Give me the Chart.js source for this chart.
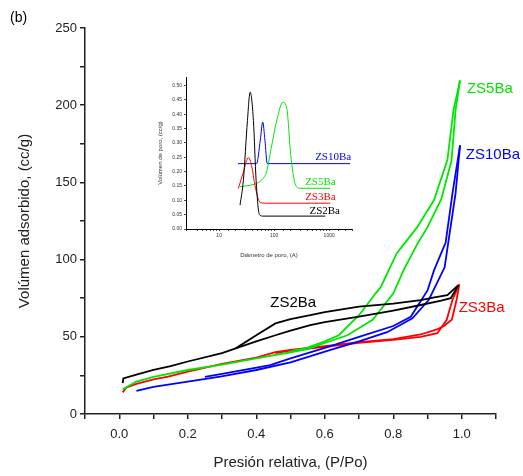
<!DOCTYPE html>
<html>
<head>
<meta charset="utf-8">
<script src="https://cdn.jsdelivr.net/npm/chart.js@4/dist/chart.umd.min.js"></script>
<style>
  body { margin: 0; background: #fff; }
  #wrap { position: relative; width: 523px; height: 476px; }
  #main { position: absolute; left: 0; top: 0; }
  #inset { position: absolute; left: 150px; top: 70px; }
  #tag { position: absolute; left: 10px; top: 9px; font: 14px "Liberation Sans", Arial, sans-serif; }
</style>
</head>
<body>
<div id="wrap">
  <canvas id="main" width="523" height="476"></canvas>
  <canvas id="inset" width="215" height="190"></canvas>
  <span id="tag">(b)</span>
</div>
<script>
// isotherms: [P/Po, volume cc/g]
const zs2Ads = [[0.01,20],[0.012,23],[0.05,25.5],[0.1,28.5],[0.15,31],[0.2,34],[0.3,39.5],[0.34,42.5],[0.4,47],[0.456,51],[0.5,54],[0.558,57.6],[0.6,59.5],[0.7,63],[0.8,67],[0.88,70.6],[0.94,73.5],[0.968,75],[0.99,83.5]];
const zs2Des = [[0.99,83.5],[0.958,77],[0.92,75.5],[0.88,73.8],[0.8,71.5],[0.7,69.5],[0.6,66],[0.558,64],[0.5,61.5],[0.456,58.7],[0.4,51],[0.34,42.5]];
const zs3Ads = [[0.01,14],[0.02,17],[0.05,19.5],[0.1,22.5],[0.143,24.2],[0.2,27.5],[0.3,32.5],[0.4,36.5],[0.456,40],[0.5,41.5],[0.6,44],[0.7,46.5],[0.8,48.5],[0.88,51.5],[0.93,55],[0.948,57],[0.971,61],[0.985,74],[0.993,84]];
const zs3Des = [[0.993,84],[0.973,74],[0.956,61],[0.929,52.3],[0.88,50],[0.8,48],[0.7,46],[0.6,43.5],[0.5,41],[0.456,39.5]];
const zs5Ads = [[0.01,16],[0.05,21],[0.1,24],[0.2,28.5],[0.3,32],[0.4,36],[0.5,40],[0.55,42],[0.6,46],[0.666,51],[0.74,61],[0.8,78],[0.83,93],[0.87,110],[0.9,121],[0.94,139],[0.97,164],[0.982,197],[0.995,216]];
const zs5Des = [[0.995,216],[0.976,197],[0.958,164.5],[0.919,138.6],[0.87,121],[0.81,104],[0.763,82],[0.748,78],[0.7,64],[0.641,51],[0.6,47],[0.55,43],[0.5,40.5]];
const zs10Ads = [[0.05,15],[0.1,17.5],[0.2,21],[0.295,24.2],[0.4,28.5],[0.5,33.5],[0.617,41.5],[0.7,47],[0.782,53],[0.856,62],[0.904,74],[0.95,95],[0.982,143],[0.995,174]];
const zs10Des = [[0.995,174],[0.973,143],[0.953,111],[0.919,93],[0.9,80],[0.851,63],[0.8,57],[0.7,50],[0.617,44],[0.5,36],[0.441,31.7],[0.3,26],[0.25,24]];

// pore size distribution: [diameter A, volume cc/g]
const zs2Psd = [[24,0.083],[27.6,0.17],[32.7,0.378],[36.6,0.477],[42,0.378],[47,0.17],[54,0.05],[63,0.045],[150,0.045],[850,0.045]];
const zs3Psd = [[22.4,0.141],[27.7,0.2],[34,0.249],[39,0.22],[45,0.15],[56,0.092],[70,0.09],[1050,0.09]];
const zs5Psd = [[24,0.147],[35,0.152],[48,0.159],[62,0.175],[73,0.2],[88,0.28],[112,0.38],[144,0.442],[170,0.42],[200,0.26],[240,0.158],[295,0.142],[1050,0.142]];
const zs10Psd = [[22,0.228],[48,0.228],[56,0.31],[62,0.373],[68,0.31],[75,0.228],[2400,0.228]];

const black = '#000000', red = '#ff0000', green = '#00e600', blue = '#0000ff';
const sans = '"Liberation Sans", Arial, sans-serif';
const serif = '"Liberation Serif", "Times New Roman", serif';

const xy = arr => arr.map(p => ({x: p[0], y: p[1]}));
const line = (arr, color, w, smooth) => ({
  data: xy(arr), borderColor: color, borderWidth: w,
  showLine: true, pointRadius: 0, tension: 0, fill: false,
  cubicInterpolationMode: smooth ? 'monotone' : 'default'
});

const textLabels = {
  id: 'textLabels',
  afterDatasetsDraw(chart, args, opts) {
    const {ctx, scales} = chart;
    ctx.save();
    ctx.textAlign = 'left';
    ctx.textBaseline = 'middle';
    ctx.font = opts.font;
    (opts.items || []).forEach(it => {
      ctx.fillStyle = it.color;
      ctx.fillText(it.text, scales.x.getPixelForValue(it.x), scales.y.getPixelForValue(it.y));
    });
    ctx.restore();
  }
};

new Chart(document.getElementById('main'), {
  type: 'scatter',
  data: {
    datasets: [
      line(zs2Ads, black, 1.8), line(zs2Des, black, 1.8),
      line(zs5Ads, green, 1.8), line(zs5Des, green, 1.8),
      line(zs10Ads, blue, 1.8), line(zs10Des, blue, 1.8),
      line(zs3Ads, red, 1.8), line(zs3Des, red, 1.8)
    ]
  },
  plugins: [textLabels],
  options: {
    responsive: false, animation: false, devicePixelRatio: 1,
    layout: { padding: { left: 0, top: 28, right: 27, bottom: 0 } },
    plugins: {
      legend: { display: false }, tooltip: { enabled: false },
      textLabels: {
        font: '15px ' + sans,
        items: [
          { text: 'ZS5Ba', x: 1.015, y: 210.5, color: green },
          { text: 'ZS10Ba', x: 1.012, y: 167.7, color: blue },
          { text: 'ZS3Ba', x: 0.991, y: 68.7, color: red },
          { text: 'ZS2Ba', x: 0.441, y: 71.9, color: black }
        ]
      }
    },
    scales: {
      x: {
        type: 'linear', min: -0.1, max: 1.1,
        afterFit: s => { s.height = 62; },
        border: { display: true, color: '#222', width: 1.5 },
        grid: { drawOnChartArea: false, drawTicks: true, tickLength: 5, color: '#222', lineWidth: 1.5 },
        ticks: {
          stepSize: 0.1, padding: 8, color: '#222', font: { family: sans, size: 13 },
          callback: v => (Math.round(v * 10) % 2 === 0 ? v.toFixed(1) : '')
        },
        title: { display: true, text: 'Presión relativa, (P/Po)', color: '#222', font: { family: sans, size: 15 }, padding: { top: 5, bottom: 4 } }
      },
      y: {
        type: 'linear', min: 0, max: 250,
        afterFit: s => { s.width = 85; },
        border: { display: true, color: '#222', width: 1.5 },
        grid: { drawOnChartArea: false, drawTicks: true, tickLength: 5, color: '#222', lineWidth: 1.5 },
        ticks: {
          stepSize: 25, padding: 3, color: '#222', font: { family: sans, size: 13 },
          callback: v => (Math.round(v) % 50 === 0 ? String(v) : '')
        },
        title: { display: true, text: 'Volúmen adsorbido, (cc/g)', color: '#222', font: { family: sans, size: 15 }, padding: { top: 16, bottom: 0 } }
      }
    }
  }
});

new Chart(document.getElementById('inset'), {
  type: 'scatter',
  data: {
    datasets: [
      line(zs2Psd, black, 1, true), line(zs3Psd, red, 1, true),
      line(zs5Psd, green, 1, true), line(zs10Psd, blue, 1, true)
    ]
  },
  plugins: [textLabels],
  options: {
    responsive: false, animation: false, devicePixelRatio: 1,
    layout: { padding: { left: 0, top: 7, right: 13, bottom: 0 } },
    plugins: {
      legend: { display: false }, tooltip: { enabled: false },
      textLabels: {
        font: '11px ' + serif,
        items: [
          { text: 'ZS10Ba', x: 556, y: 0.25, color: blue },
          { text: 'ZS5Ba', x: 366, y: 0.164, color: green },
          { text: 'ZS3Ba', x: 366, y: 0.11, color: red },
          { text: 'ZS2Ba', x: 438, y: 0.0625, color: black }
        ]
      }
    },
    scales: {
      x: {
        type: 'logarithmic', min: 2.5, max: 2600,
        afterFit: s => { s.height = 31; },
        border: { display: true, color: '#000', width: 1 },
        grid: { drawOnChartArea: false, drawTicks: true, tickLength: 2, color: '#000', lineWidth: 0.7 },
        ticks: {
          autoSkip: false, maxRotation: 0, padding: 2, color: '#333', font: { family: sans, size: 5 },
          callback: v => ([10, 100, 1000].includes(v) ? String(v) : '')
        },
        title: { display: true, text: 'Diámetro de poro, (A)', color: '#333', font: { family: sans, size: 6 }, padding: { top: 2, bottom: 1 } }
      },
      y: {
        type: 'linear', min: 0, max: 0.53,
        afterFit: s => { s.width = 36; },
        border: { display: true, color: '#000', width: 1 },
        grid: { drawOnChartArea: false, drawTicks: true, tickLength: 2, color: '#000', lineWidth: 0.7 },
        ticks: {
          stepSize: 0.05, padding: 2, color: '#333', font: { family: sans, size: 5 },
          callback: v => (Math.abs(Math.round(v * 20) - v * 20) < 1e-6 ? v.toFixed(2) : null)
        },
        title: { display: true, text: 'Volúmen de poro, (cc/g)', color: '#333', font: { family: sans, size: 6 }, padding: { top: 7, bottom: 0 } }
      }
    }
  }
});
</script>
</body>
</html>
